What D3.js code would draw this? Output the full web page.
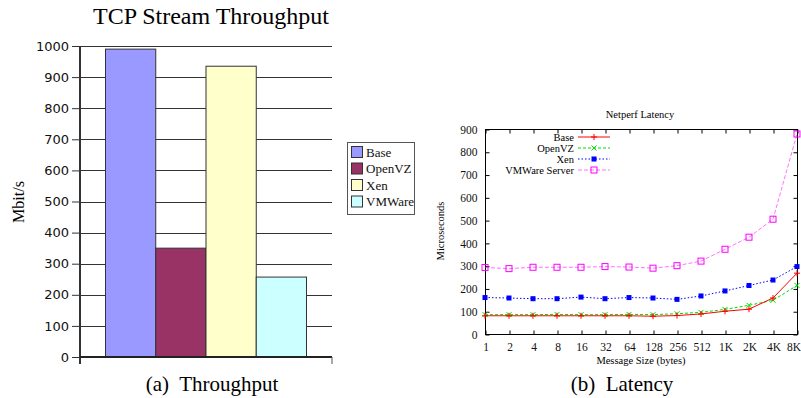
<!DOCTYPE html>
<html>
<head>
<meta charset="utf-8">
<script src="https://cdn.jsdelivr.net/npm/d3@7"></script>
<style>
  body { margin: 0; background: #fff; }
  svg { display: block; }
</style>
</head>
<body>
<svg id="chart" width="801" height="398"></svg>
<script>
// throughput bars (left)
var tputNames = ["Base", "OpenVZ", "Xen", "VMWare"];
var tputValues = [990, 350, 935, 257];
var tputColors = ["#9999ff", "#993366", "#ffffcc", "#ccffff"];
var tputTicks = [0, 100, 200, 300, 400, 500, 600, 700, 800, 900, 1000];

// latency lines (right)
var sizeLabels = ["1", "2", "4", "8", "16", "32", "64", "128", "256", "512", "1K", "2K", "4K", "8K"];
var latBase   = [80, 80, 80, 80, 80, 80, 80, 78, 81, 88, 100, 109, 158, 267];
var latOpenVZ = [85, 85, 85, 86, 85, 85, 86, 85, 89, 95, 108, 126, 148, 213];
var latXen    = [160, 158, 155, 155, 162, 155, 160, 158, 152, 167, 189, 213, 237, 296];
var latVMWare = [292, 287, 293, 293, 293, 296, 294, 289, 300, 320, 372, 425, 504, 878];
var latTicks = [0, 100, 200, 300, 400, 500, 600, 700, 800, 900];

var SERIF = "'Liberation Serif', 'Times New Roman', Times, serif";
var SANS = "'DejaVu Sans', Verdana, sans-serif";

var svg = d3.select("#chart");

// ---------- left: TCP Stream Throughput ----------
var left = { x0: 80, x1: 332, y0: 357, y1: 46 };

var yL = d3.scaleLinear().domain([0, 1000]).range([left.y0, left.y1]);
var xL = d3.scaleBand().domain(tputNames).range([105, 306]).padding(0);

var gL = svg.append("g");

// gridlines
gL.selectAll("line.grid")
  .data(tputTicks.filter(d => d > 0))
  .enter().append("line")
  .attr("x1", left.x0).attr("x2", left.x1)
  .attr("y1", d => Math.round(yL(d)) + 0.5)
  .attr("y2", d => Math.round(yL(d)) + 0.5)
  .attr("stroke", "#333").attr("stroke-width", 1);

// bars
gL.selectAll("rect.bar")
  .data(tputValues)
  .enter().append("rect")
  .attr("x", (d, i) => xL(tputNames[i]) + 0.5)
  .attr("y", d => yL(d))
  .attr("width", xL.bandwidth())
  .attr("height", d => yL(0) - yL(d))
  .attr("fill", (d, i) => tputColors[i])
  .attr("stroke", "#333").attr("stroke-width", 1);

// y axis
var leftAxis = d3.axisLeft(yL).tickValues(tputTicks).tickFormat(d3.format("d"))
  .tickSize(8).tickSizeOuter(0).tickPadding(3);
var yAxisL = gL.append("g")
  .attr("transform", `translate(${left.x0}, 0)`)
  .call(leftAxis);
yAxisL.select(".domain").remove();
yAxisL.selectAll(".tick line").attr("stroke", "#333");
yAxisL.selectAll("text").attr("font-family", SANS).attr("font-size", 13).attr("fill", "#111");

gL.append("line")
  .attr("x1", left.x0).attr("x2", left.x0)
  .attr("y1", left.y1).attr("y2", left.y0 + 7)
  .attr("stroke", "#333").attr("stroke-width", 2);
gL.append("line")
  .attr("x1", left.x0).attr("x2", left.x1)
  .attr("y1", left.y0).attr("y2", left.y0)
  .attr("stroke", "#222").attr("stroke-width", 2);
gL.append("line")
  .attr("x1", left.x1).attr("x2", left.x1)
  .attr("y1", left.y0).attr("y2", left.y0 + 7)
  .attr("stroke", "#555").attr("stroke-width", 1);

gL.append("text").attr("font-family", SERIF)
  .attr("x", 211).attr("y", 24)
  .attr("text-anchor", "middle").attr("font-size", 24)
  .text("TCP Stream Throughput");

gL.append("text").attr("font-family", SERIF)
  .attr("transform", "translate(24, 202) rotate(-90)")
  .attr("text-anchor", "middle").attr("font-size", 16)
  .text("Mbit/s");

gL.append("text").attr("font-family", SERIF)
  .attr("x", 212).attr("y", 391)
  .attr("text-anchor", "middle").attr("font-size", 21)
  .attr("xml:space", "preserve")
  .text("(a)  Throughput");

// legend
var legL = gL.append("g");
legL.append("rect")
  .attr("x", 347.5).attr("y", 142.5).attr("width", 67).attr("height", 72)
  .attr("fill", "#fff").attr("stroke", "#555");
tputNames.forEach(function(name, i) {
  var cy = 152 + i * 16.5;
  legL.append("rect")
    .attr("x", 351.5).attr("y", cy - 5.5).attr("width", 11).attr("height", 11)
    .attr("fill", tputColors[i]).attr("stroke", "#333");
  legL.append("text").attr("font-family", SERIF)
    .attr("x", 366).attr("y", cy + 4.5)
    .attr("font-size", 13).attr("fill", "#111")
    .text(name);
});

// ---------- right: Netperf Latency ----------
var right = { x0: 485, x1: 797, y0: 334, y1: 129 };
var xR = d3.scalePoint().domain(sizeLabels).range([right.x0, right.x1]);
var yR = d3.scaleLinear().domain([0, 900]).range([right.y0, right.y1]);

var gR = svg.append("g");

gR.append("rect")
  .attr("x", right.x0 + 0.5).attr("y", right.y1 + 0.5)
  .attr("width", right.x1 - right.x0).attr("height", right.y0 - right.y1)
  .attr("fill", "none").attr("stroke", "#000");

var bottomAxis = d3.axisBottom(xR).tickSize(-4).tickSizeOuter(0).tickPadding(8);
var xAxisR = gR.append("g").attr("transform", `translate(0.5, ${right.y0 + 0.5})`).call(bottomAxis);
var topAxis = d3.axisTop(xR).tickSize(-4).tickSizeOuter(0).tickFormat("");
var xAxisT = gR.append("g").attr("transform", `translate(0.5, ${right.y1 + 0.5})`).call(topAxis);
var leftAxisR = d3.axisLeft(yR).tickValues(latTicks).tickSize(-4).tickSizeOuter(0).tickPadding(8);
var yAxisR = gR.append("g").attr("transform", `translate(${right.x0 + 0.5}, 0.5)`).call(leftAxisR);
var rightAxisR = d3.axisRight(yR).tickValues(latTicks).tickSize(-4).tickSizeOuter(0).tickFormat("");
var yAxisRR = gR.append("g").attr("transform", `translate(${right.x1 + 0.5}, 0.5)`).call(rightAxisR);

[xAxisR, xAxisT, yAxisR, yAxisRR].forEach(function(ax) {
  ax.select(".domain").remove();
  ax.selectAll(".tick line").attr("stroke", "#000");
  ax.selectAll("text").attr("font-family", SERIF).attr("font-size", 11.5).attr("fill", "#111");
});
// last label sits on the page edge, keep it inside
xAxisR.selectAll(".tick text").filter(d => d === "8K").attr("text-anchor", "end").attr("dx", 3);

gR.append("text").attr("font-family", SERIF)
  .attr("x", 640).attr("y", 118)
  .attr("text-anchor", "middle").attr("font-size", 10.5)
  .text("Netperf Latency");

gR.append("text").attr("font-family", SERIF)
  .attr("transform", "translate(444, 231) rotate(-90)")
  .attr("text-anchor", "middle").attr("font-size", 10.5)
  .text("Microseconds");

gR.append("text").attr("font-family", SERIF)
  .attr("x", 641).attr("y", 364)
  .attr("text-anchor", "middle").attr("font-size", 10.5)
  .text("Message Size (bytes)");

gR.append("text").attr("font-family", SERIF)
  .attr("x", 622).attr("y", 391)
  .attr("text-anchor", "middle").attr("font-size", 21)
  .attr("xml:space", "preserve")
  .text("(b)  Latency");

var series = [
  { name: "Base", values: latBase, color: "#ff0000", dash: null, marker: "plus", op: 1 },
  { name: "OpenVZ", values: latOpenVZ, color: "#00dd00", dash: "3,2", marker: "cross", op: 1 },
  { name: "Xen", values: latXen, color: "#0000ff", dash: "1.5,2", marker: "fsquare", op: 1 },
  { name: "VMWare Server", values: latVMWare, color: "#ff00ff", dash: "4,2", marker: "osquare", op: 0.55 }
];

var line = d3.line().x((d, i) => xR(sizeLabels[i])).y(d => yR(d));

function drawMarker(g, kind, x, y, color) {
  if (kind === "plus") {
    g.append("path").attr("d", `M${x - 3},${y}H${x + 3}M${x},${y - 3}V${y + 3}`)
      .attr("stroke", color).attr("stroke-width", 1).attr("fill", "none");
  } else if (kind === "cross") {
    g.append("path").attr("d", `M${x - 2.5},${y - 2.5}L${x + 2.5},${y + 2.5}M${x - 2.5},${y + 2.5}L${x + 2.5},${y - 2.5}`)
      .attr("stroke", color).attr("stroke-width", 1).attr("fill", "none");
  } else if (kind === "fsquare") {
    g.append("rect").attr("x", x - 2.5).attr("y", y - 2.5).attr("width", 5).attr("height", 5)
      .attr("fill", color);
  } else {
    g.append("rect").attr("x", x - 3).attr("y", y - 3).attr("width", 6).attr("height", 6)
      .attr("fill", "none").attr("stroke", color).attr("stroke-width", 1);
  }
}

var plotG = gR.append("g");
series.slice().reverse().forEach(function(s) {
  plotG.append("path")
    .datum(s.values)
    .attr("d", line)
    .attr("fill", "none")
    .attr("stroke", s.color)
    .attr("stroke-opacity", s.op)
    .attr("stroke-width", 1)
    .attr("stroke-dasharray", s.dash);
  s.values.forEach(function(v, i) {
    drawMarker(plotG, s.marker, xR(sizeLabels[i]), yR(v), s.color);
  });
});

// line legend
var legR = gR.append("g");
series.forEach(function(s, i) {
  var y = 137 + i * 11;
  legR.append("text").attr("font-family", SERIF)
    .attr("x", 574).attr("y", y + 3.5)
    .attr("text-anchor", "end").attr("font-size", 10.5)
    .text(s.name);
  legR.append("line")
    .attr("x1", 578).attr("x2", 610).attr("y1", y).attr("y2", y)
    .attr("stroke", s.color).attr("stroke-opacity", s.op)
    .attr("stroke-width", 1).attr("stroke-dasharray", s.dash);
  drawMarker(legR, s.marker, 594, y, s.color);
});
</script>
</body>
</html>
